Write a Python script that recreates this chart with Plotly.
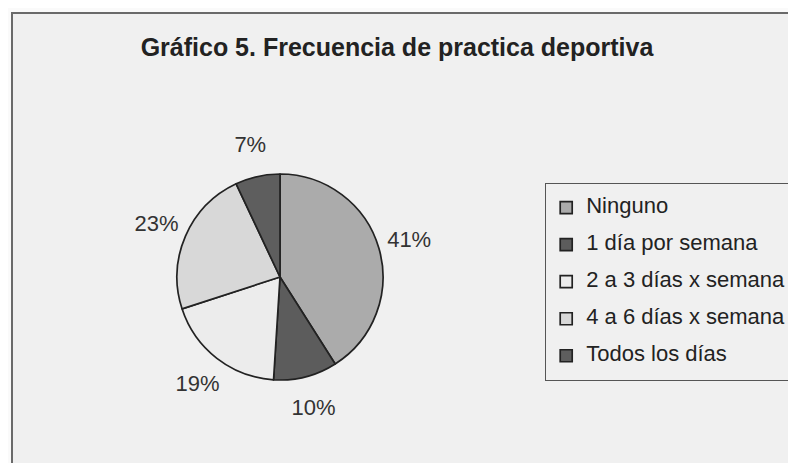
import plotly.graph_objects as go

categories = ["Ninguno", "1 día por semana", "2 a 3 días x semana", "4 a 6 días x semana", "Todos los días"]
percentages = [41, 10, 19, 23, 7]
slice_colors = ["#ababab", "#5c5c5c", "#ececec", "#d8d8d8", "#5e5e5e"]

W, H = 796, 463
OFF = 8                        # page body margin of the html page
FONT = "Liberation Sans, Arial, sans-serif"
CX, CY, R = 280 - OFF, 277 - OFF, 103   # pie centre / radius in px
RL = 166                                # outer radius of the (invisible) label ring

legend_labels = ["&nbsp;<br><sub><span style='font-size:22px'>%s</span></sub><br>&nbsp;" % c
                 for c in categories]

fig = go.Figure()
# visible pie
fig.add_trace(go.Pie(
    labels=legend_labels,
    values=percentages,
    sort=False,
    direction="clockwise",
    rotation=0,
    marker=dict(colors=slice_colors, line=dict(color="#222222", width=1.7)),
    textinfo="none",
    hovertext=categories,
    hoverinfo="text+percent",
    domain=dict(x=[(CX - R) / W, (CX + R) / W], y=[1 - (CY + R) / H, 1 - (CY - R) / H]),
))
# transparent ring that carries the percentage labels outside the pie
fig.add_trace(go.Pie(
    labels=categories,
    values=percentages,
    sort=False,
    direction="clockwise",
    rotation=0,
    hole=R / RL,
    showlegend=False,
    hoverinfo="skip",
    marker=dict(colors=["rgba(0,0,0,0)"] * len(categories), line=dict(width=0)),
    texttemplate="%{value}%",
    textposition="inside",
    insidetextorientation="horizontal",
    insidetextfont=dict(family=FONT, size=22, color="#333333"),
    domain=dict(x=[(CX - RL) / W, (CX + RL) / W], y=[1 - (CY + RL) / H, 1 - (CY - RL) / H]),
))

fig.add_shape(type="rect", xref="paper", yref="paper",
              x0=(12 - OFF) / W, x1=1.02, y0=-0.02, y1=1 - (13 - OFF) / H,
              line=dict(color="#6a6a6a", width=2), fillcolor="#f0f0f0", layer="below")

fig.update_layout(
    width=W, height=H,
    margin=dict(l=0, r=0, t=0, b=0, autoexpand=False),
    paper_bgcolor="#fafafa",
    plot_bgcolor="#f0f0f0",
    uniformtext=dict(minsize=22, mode="show"),
    title=dict(text="<b>Gráfico 5. Frecuencia de practica deportiva</b>",
               x=(397 - OFF) / W, xanchor="center", y=1 - (47 - OFF) / H, yanchor="middle",
               font=dict(family=FONT, size=25, color="#222222")),
    showlegend=True,
    legend=dict(
        x=(545 - OFF) / W, xanchor="left", y=1 - (183 - OFF) / H, yanchor="top",
        bgcolor="#f0f0f0", bordercolor="#555555", borderwidth=1.2,
        font=dict(family=FONT, size=8.72, color="#222222"),
        valign="middle",
    ),
)

fig.write_html("out.html")
